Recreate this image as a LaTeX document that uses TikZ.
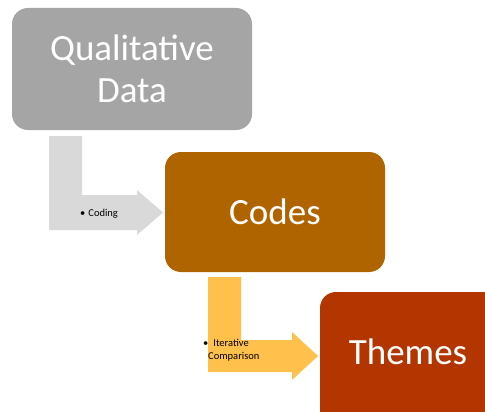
\documentclass[tikz,border=0pt]{standalone}
\usepackage{fontspec}
\setmainfont{Carlito}
\definecolor{dataGray}{HTML}{A5A5A5}
\definecolor{codeBrown}{HTML}{B06400}
\definecolor{themeRust}{HTML}{B33600}
\definecolor{arrowGray}{HTML}{D9D9D9}
\definecolor{arrowGold}{HTML}{FFC04C}
\tikzset{
  stagebox/.style={rounded corners=16pt, inner sep=0pt, text=white,
    font=\fontsize{37}{42}\selectfont, align=center},
  steplabel/.style={font=\fontsize{10.5}{12}\selectfont, text=black, inner sep=0pt, anchor=base west}
}
\begin{document}
\begin{tikzpicture}[x=1pt,y=-1pt]
  \useasboundingbox (0,0) rectangle (485,412);
  \clip (0,0) rectangle (485,412);

  % stage boxes
  \fill[dataGray, rounded corners=16pt] (12,8) rectangle (252,130);
  \node[stagebox, align=center] (qd) at (132,69) {Qualitative\\Data};
  \fill[codeBrown, rounded corners=16pt] (165,152) rectangle (385,272);
  \node[stagebox] (codes) at (275,212) {Codes};
  \fill[themeRust, rounded corners=16pt] (320,292) rectangle (520,440);
  \node[stagebox] (themes) at (408,352) {Themes};

  % bent arrow from data to codes
  \fill[arrowGray] (49,136) -- (82,136) -- (82,195) -- (137,195) -- (137,190)
     -- (163,212.5) -- (137,235) -- (137,230) -- (49,230) -- cycle;
  \node[steplabel] (lcoding) at (80,216) {\textbullet\hspace{3pt}Coding};

  % bent arrow from codes to themes
  \fill[arrowGold] (208,277) -- (241,277) -- (241,340) -- (292,340) -- (292,332)
     -- (318,356) -- (292,380) -- (292,372) -- (208,372) -- cycle;
  \node[steplabel] (liter) at (203,346) {\textbullet\hspace{5pt}Iterative};
  \node[steplabel] (lcomp) at (208,359) {Comparison};
\end{tikzpicture}
\end{document}
